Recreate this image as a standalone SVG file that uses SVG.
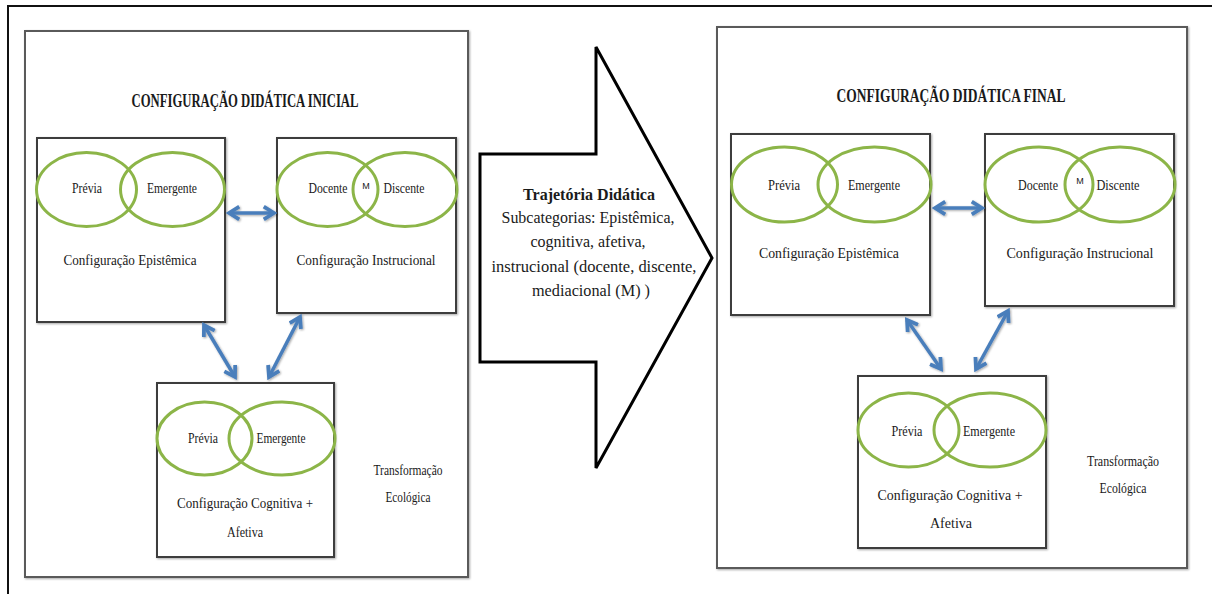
<svg xmlns="http://www.w3.org/2000/svg" width="1212" height="594" viewBox="0 0 1212 594">
<defs>
<style>
.frame{fill:#fff;stroke:#5a5a5a;stroke-width:2}
.box{fill:#fff;stroke:#3c3c3c;stroke-width:2}
.ell{fill:none;stroke:#8cb548;stroke-width:3}
.t{font-family:"Liberation Serif","Times New Roman",serif;font-size:15.5px;fill:#1a1a1a;text-anchor:middle}
.title{font-family:"Liberation Serif","Times New Roman",serif;font-size:18px;font-weight:bold;fill:#1a1a1a;text-anchor:middle}
.m{font-family:"Liberation Sans",Arial,sans-serif;font-size:9px;fill:#1a1a1a;text-anchor:middle}
.at{font-family:"Liberation Serif","Times New Roman",serif;font-size:16px;fill:#1a1a1a;text-anchor:middle}
.conn{fill:none;stroke:#4a7ebb;stroke-width:3.5;marker-start:url(#ah);marker-end:url(#ah)}
</style>
<marker id="ah" viewBox="0 0 10 10" refX="8" refY="5" markerWidth="4.5" markerHeight="4.5" orient="auto-start-reverse" markerUnits="strokeWidth">
<path d="M1.5,1 L8,5 L1.5,9" fill="none" stroke="#4a7ebb" stroke-width="2.4" stroke-linejoin="miter"/>
</marker>
<filter id="sh" x="-5%" y="-5%" width="110%" height="110%">
<feDropShadow dx="1" dy="1" stdDeviation="0.8" flood-color="#000" flood-opacity="0.35"/>
</filter>
</defs>
<rect width="1212" height="594" fill="#fff"/>
<g id="page-border" fill="none" stroke="#111" stroke-width="2">
<line x1="7" y1="6" x2="1212" y2="6"/>
<line x1="8" y1="6" x2="8" y2="594"/>
</g>

<g id="left-panel">
<rect class="frame" x="25" y="31" width="443" height="546" filter="url(#sh)"/>
<text class="title" x="245" y="107" textLength="227" lengthAdjust="spacingAndGlyphs">CONFIGURAÇÃO  DIDÁTICA INICIAL</text>
<text class="t" x="408" y="475" textLength="69" lengthAdjust="spacingAndGlyphs">Transformação</text>
<text class="t" x="408" y="502" textLength="45" lengthAdjust="spacingAndGlyphs">Ecológica</text>
</g>
<g id="left-epistemica">
<rect class="box" x="37" y="138" width="188" height="184" filter="url(#sh)"/>
<ellipse class="ell" cx="86.5" cy="189.5" rx="50" ry="37"/>
<ellipse class="ell" cx="172.5" cy="189.5" rx="52" ry="37"/>
<text class="t" x="87" y="193" textLength="30" lengthAdjust="spacingAndGlyphs">Prévia</text>
<text class="t" x="172" y="193" textLength="50" lengthAdjust="spacingAndGlyphs">Emergente</text>
<text class="t" x="130" y="265" textLength="133" lengthAdjust="spacingAndGlyphs">Configuração Epistêmica</text>
</g>
<g id="left-instrucional">
<rect class="box" x="277" y="138" width="179" height="175" filter="url(#sh)"/>
<ellipse class="ell" cx="327.5" cy="189.5" rx="50.5" ry="37"/>
<ellipse class="ell" cx="405" cy="189.5" rx="52" ry="37"/>
<text class="t" x="328" y="193" textLength="39" lengthAdjust="spacingAndGlyphs">Docente</text>
<text class="m" x="366" y="189">M</text>
<text class="t" x="404" y="193" textLength="41" lengthAdjust="spacingAndGlyphs">Discente</text>
<text class="t" x="366" y="265" textLength="139" lengthAdjust="spacingAndGlyphs">Configuração Instrucional</text>
</g>
<g id="left-cognitiva">
<rect class="box" x="157" y="383" width="177" height="174" filter="url(#sh)"/>
<ellipse class="ell" cx="204.5" cy="438.5" rx="47.5" ry="36.5"/>
<ellipse class="ell" cx="282" cy="438.5" rx="53" ry="36.5"/>
<text class="t" x="203" y="443" textLength="30" lengthAdjust="spacingAndGlyphs">Prévia</text>
<text class="t" x="281" y="443" textLength="49" lengthAdjust="spacingAndGlyphs">Emergente</text>
<text class="t" x="245" y="508" textLength="136" lengthAdjust="spacingAndGlyphs">Configuração Cognitiva +</text>
<text class="t" x="245" y="537" textLength="36" lengthAdjust="spacingAndGlyphs">Afetiva</text>
</g>

<g id="trajetoria-arrow">
<path d="M480,154 L596,154 L596,47 L712,258 L596,468 L596,362 L480,362 Z" fill="#fff" stroke="#000" stroke-width="3" stroke-linejoin="miter"/>
<text class="at" x="589" y="200" font-weight="bold" textLength="132" lengthAdjust="spacingAndGlyphs">Trajetória Didática</text>
<text class="at" x="588" y="223" textLength="173" lengthAdjust="spacingAndGlyphs">Subcategorias: Epistêmica,</text>
<text class="at" x="588" y="247" textLength="115" lengthAdjust="spacingAndGlyphs">cognitiva,  afetiva,</text>
<text class="at" x="594" y="272" textLength="205" lengthAdjust="spacingAndGlyphs">instrucional (docente, discente,</text>
<text class="at" x="591" y="296" textLength="118" lengthAdjust="spacingAndGlyphs">mediacional (M) )</text>
</g>

<g id="right-panel">
<rect class="frame" x="717" y="27" width="470" height="541" filter="url(#sh)"/>
<text class="title" x="951" y="102" textLength="229" lengthAdjust="spacingAndGlyphs">CONFIGURAÇÃO  DIDÁTICA  FINAL</text>
<text class="t" x="1123" y="466" textLength="72" lengthAdjust="spacingAndGlyphs">Transformação</text>
<text class="t" x="1123" y="493" textLength="47" lengthAdjust="spacingAndGlyphs">Ecológica</text>
</g>
<g id="right-epistemica">
<rect class="box" x="731" y="134" width="199" height="181" filter="url(#sh)"/>
<ellipse class="ell" cx="784.5" cy="184.5" rx="53" ry="37.5"/>
<ellipse class="ell" cx="874.5" cy="184.5" rx="56.5" ry="37.5"/>
<text class="t" x="784" y="190" textLength="32" lengthAdjust="spacingAndGlyphs">Prévia</text>
<text class="t" x="874" y="190" textLength="52" lengthAdjust="spacingAndGlyphs">Emergente</text>
<text class="t" x="829" y="258" textLength="140" lengthAdjust="spacingAndGlyphs">Configuração Epistêmica</text>
</g>
<g id="right-instrucional">
<rect class="box" x="985" y="134" width="189" height="172" filter="url(#sh)"/>
<ellipse class="ell" cx="1039" cy="184.5" rx="54" ry="37.5"/>
<ellipse class="ell" cx="1120" cy="184.5" rx="55" ry="37.5"/>
<text class="t" x="1038" y="190" textLength="40" lengthAdjust="spacingAndGlyphs">Docente</text>
<text class="m" x="1080" y="184">M</text>
<text class="t" x="1118" y="190" textLength="43" lengthAdjust="spacingAndGlyphs">Discente</text>
<text class="t" x="1080" y="258" textLength="147" lengthAdjust="spacingAndGlyphs">Configuração Instrucional</text>
</g>
<g id="right-cognitiva">
<rect class="box" x="858" y="376" width="188" height="172" filter="url(#sh)"/>
<ellipse class="ell" cx="908.5" cy="430" rx="50.5" ry="37"/>
<ellipse class="ell" cx="990" cy="430" rx="56" ry="37"/>
<text class="t" x="907" y="436" textLength="31" lengthAdjust="spacingAndGlyphs">Prévia</text>
<text class="t" x="989" y="436" textLength="52" lengthAdjust="spacingAndGlyphs">Emergente</text>
<text class="t" x="950" y="500" textLength="145" lengthAdjust="spacingAndGlyphs">Configuração Cognitiva +</text>
<text class="t" x="951" y="528" textLength="42" lengthAdjust="spacingAndGlyphs">Afetiva</text>
</g>

<g id="connectors" filter="url(#sh)">
<line class="conn" x1="229" y1="213" x2="274" y2="213"/>
<line class="conn" x1="204" y1="325" x2="235" y2="377"/>
<line class="conn" x1="300" y1="317" x2="269" y2="377"/>
<line class="conn" x1="935" y1="208" x2="982" y2="208"/>
<line class="conn" x1="907" y1="320" x2="941" y2="369"/>
<line class="conn" x1="1008" y1="311" x2="976" y2="369"/>
</g>
</svg>
